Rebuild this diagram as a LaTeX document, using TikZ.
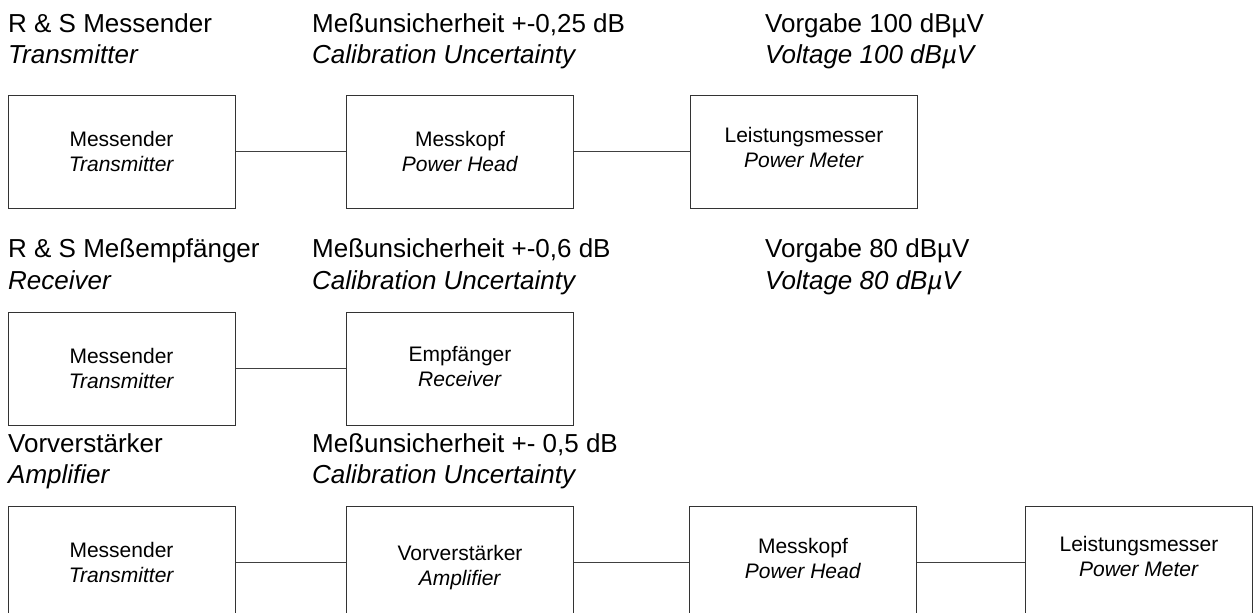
\documentclass[tikz,border=0pt]{standalone}
\usepackage{fontspec}
\setmainfont{Liberation Sans}
\newcommand{\bxhi}[1]{\rule{0pt}{#1}}
\newcommand{\bxlo}[1]{\rule[-#1]{0pt}{#1}}
\begin{document}
\begin{tikzpicture}[x=1pt,y=-1pt,
  hdr/.style={anchor=base west, inner sep=0pt, font=\fontsize{26}{31}\selectfont},
  hdri/.style={hdr, font=\fontsize{26}{31}\selectfont\itshape},
  blk/.style={draw=black!80, line width=1pt, minimum width=227pt, minimum height=113pt,
    inner sep=0pt, align=center, font=\fontsize{21}{25}\selectfont},
  wire/.style={draw=black!75, line width=1pt}]
\path[use as bounding box, clip] (0,0) rectangle (1256,613);
\fill[white] (0,0) rectangle (1256,613);
% row 1 headers
\node[hdr]  (h11) at (8,32)   {R \& S Messender};
\node[hdri] (h12) at (8,63)   {Transmitter};
\node[hdr]  (h13) at (312,32) {Meßunsicherheit +-0,25 dB};
\node[hdri] (h14) at (312,63) {Calibration Uncertainty};
\node[hdr]  (h15) at (765,32) {Vorgabe 100 dBµV};
\node[hdri] (h16) at (765,63) {Voltage 100 dBµV};
% row 1 boxes
\node[blk] (a1) at (121.5,151.5) {\bxhi{20pt}Messender\\\textit{Transmitter}\bxlo{4.6pt}};
\node[blk] (b1) at (460,151.5)   {\bxhi{20pt}Messkopf\\\textit{Power Head}\bxlo{4.6pt}};
\node[blk] (c1) at (804,151.5)   {\bxhi{20pt}Leistungsmesser\\\textit{Power Meter}\bxlo{12.6pt}};
\draw[wire] (a1) -- (b1);
\draw[wire] (b1) -- (c1);
% row 2 headers
\node[hdr]  (h21) at (8,257)   {R \& S Meßempfänger};
\node[hdri] (h22) at (8,289)   {Receiver};
\node[hdr]  (h23) at (312,257) {Meßunsicherheit +-0,6 dB};
\node[hdri] (h24) at (312,289) {Calibration Uncertainty};
\node[hdr]  (h25) at (765,257) {Vorgabe 80 dBµV};
\node[hdri] (h26) at (765,289) {Voltage 80 dBµV};
% row 2 boxes
\node[blk] (a2) at (121.5,368.5) {\bxhi{20pt}Messender\\\textit{Transmitter}\bxlo{4.6pt}};
\node[blk] (b2) at (460,368.5)   {\bxhi{20pt}Empfänger\\\textit{Receiver}\bxlo{8.6pt}};
\draw[wire] (a2) -- (b2);
% row 3 headers
\node[hdr]  (h31) at (8,452)   {Vorverstärker};
\node[hdri] (h32) at (8,483)   {Amplifier};
\node[hdr]  (h33) at (312,452) {Meßunsicherheit +- 0,5 dB};
\node[hdri] (h34) at (312,483) {Calibration Uncertainty};
% row 3 boxes
\node[blk] (a3) at (121.5,562.5) {\bxhi{20pt}Messender\\\textit{Transmitter}\bxlo{4.6pt}};
\node[blk] (b3) at (460,562.5)   {\bxhi{26pt}Vorverstärker\\\textit{Amplifier}\bxlo{4.6pt}};
\node[blk] (c3) at (803,562.5)   {\bxhi{20pt}Messkopf\\\textit{Power Head}\bxlo{12.6pt}};
\node[blk] (d3) at (1139,562.5)  {\bxhi{20pt}Leistungsmesser\\\textit{Power Meter}\bxlo{16.6pt}};
\draw[wire] (a3) -- (b3);
\draw[wire] (b3) -- (c3);
\draw[wire] (c3) -- (d3);
\end{tikzpicture}
\end{document}
